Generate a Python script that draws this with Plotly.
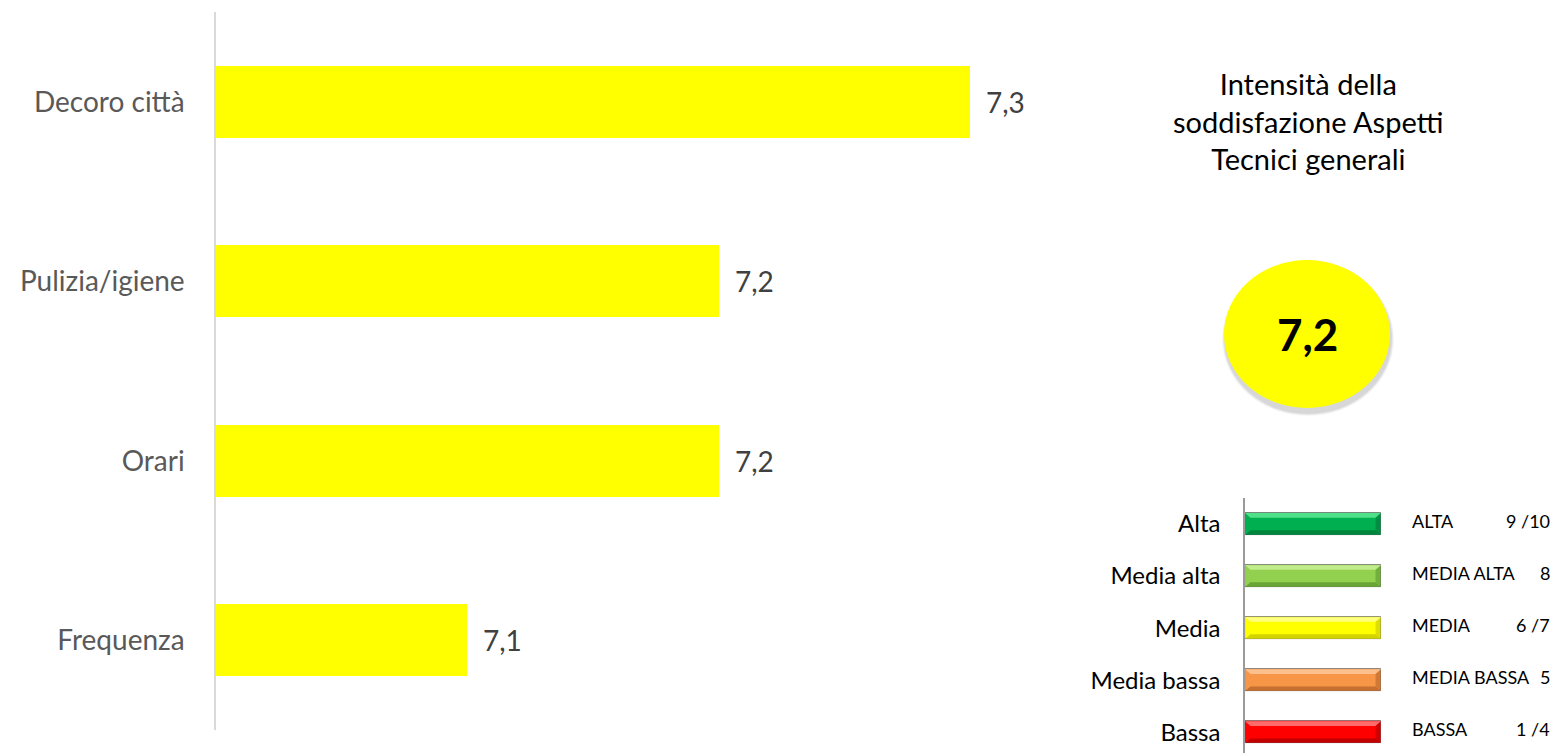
import plotly.graph_objects as go

# Soddisfazione per aspetto (scala 1-10)
aspetti = ["Decoro città", "Pulizia/igiene", "Orari", "Frequenza"]
punteggi = [7.3, 7.2, 7.2, 7.1]

# Scala di intensità
livelli = ["Alta", "Media alta", "Media", "Media bassa", "Bassa"]
livelli_sigla = ["ALTA", "MEDIA ALTA", "MEDIA", "MEDIA BASSA", "BASSA"]
livelli_range = ["9 /10", "8", "6 /7", "5", "1 /4"]
livelli_colori = ["#00B050", "#92D050", "#FFFF00", "#F79646", "#FF0000"]
livelli_chiari = ["#4fe08a", "#c0ec8c", "#ffff80", "#fbc08e", "#ff6a6a"]
livelli_scuri = ["#007a38", "#5f9a2e", "#c8c800", "#b8652a", "#b30000"]
livelli_lunghezza = [1, 1, 1, 1, 1]

W, H = 1559, 753
FONT = "Lato"

def fmt(v):
    return f"{v:.1f}".replace(".", ",")

fig = go.Figure()

# Grafico principale
fig.add_trace(go.Bar(
    x=punteggi, y=aspetti, orientation="h",
    marker=dict(color="#FFFF00", line=dict(width=0)),
    width=0.4, xaxis="x", yaxis="y", hoverinfo="skip",
))
for a, v in zip(aspetti, punteggi):
    fig.add_annotation(x=v, y=a, xref="x", yref="y", text=fmt(v),
                       showarrow=False, xanchor="left", xshift=14,
                       font=dict(family=FONT, size=28, color="#404040"))

# Scala di intensità con barre smussate
pos = list(range(len(livelli)))
fig.add_trace(go.Bar(
    x=livelli_lunghezza, y=pos, orientation="h",
    marker=dict(color=livelli_colori, line=dict(width=0.8, color="#6b6b6b")),
    width=0.42, xaxis="x2", yaxis="y2", hoverinfo="skip",
))
bw = 0.42
t = 0.09
dx = 0.04
for i, (L, cl, cd) in enumerate(zip(livelli_lunghezza, livelli_chiari, livelli_scuri)):
    y0 = i - bw / 2
    y1 = i + bw / 2
    # faccia superiore chiara
    fig.add_shape(type="path", xref="x2", yref="y2",
                  path=f"M 0 {y0} L {L} {y0} L {L-dx} {y0+t} L {dx} {y0+t} Z",
                  fillcolor=cl, line=dict(width=0), layer="above")
    # faccia inferiore scura
    fig.add_shape(type="path", xref="x2", yref="y2",
                  path=f"M 0 {y1} L {L} {y1} L {L-dx} {y1-t} L {dx} {y1-t} Z",
                  fillcolor=cd, line=dict(width=0), opacity=0.8, layer="above")
    # lato destro
    fig.add_shape(type="path", xref="x2", yref="y2",
                  path=f"M {L} {y0} L {L} {y1} L {L-dx} {y1-t} L {L-dx} {y0+t} Z",
                  fillcolor=cd, line=dict(width=0), opacity=0.6, layer="above")

for i, (s, r) in enumerate(zip(livelli_sigla, livelli_range)):
    fig.add_annotation(x=1410 / W, y=i, xref="paper", yref="y2", text=s,
                       showarrow=False, xanchor="left", yanchor="middle", yshift=3,
                       font=dict(family=FONT, size=18, color="#000000"))
    fig.add_annotation(x=1552 / W, y=i, xref="paper", yref="y2", text=r,
                       showarrow=False, xanchor="right", yanchor="middle", yshift=3,
                       font=dict(family=FONT, size=18, color="#000000"))

# Titolo e valore medio
fig.add_annotation(x=1308 / W, y=1 - 121 / H, xref="paper", yref="paper",
                   text="Intensità della<br>soddisfazione Aspetti<br>Tecnici generali",
                   showarrow=False, align="center", xanchor="center", yanchor="middle",
                   font=dict(family=FONT, size=29, color="#000000"))

cx, cy, rx, ry = 1307, 334, 83, 74
for k, op in enumerate([0.04, 0.05, 0.07]):
    g = 3 - k
    fig.add_shape(type="circle", xref="paper", yref="paper",
                  x0=(cx - rx - g + 1) / W, x1=(cx + rx + g + 1) / W,
                  y0=1 - (cy + ry + g + 5) / H, y1=1 - (cy - ry - g + 5) / H,
                  fillcolor=f"rgba(0,0,0,{op})", line=dict(width=0))
fig.add_shape(type="circle", xref="paper", yref="paper",
              x0=(cx - rx) / W, x1=(cx + rx) / W,
              y0=1 - (cy + ry) / H, y1=1 - (cy - ry) / H,
              fillcolor="#FFFF00", line=dict(width=0))
media = sum(punteggi) / len(punteggi)
fig.add_annotation(x=cx / W, y=1 - cy / H, xref="paper", yref="paper",
                   text=f"<b>{fmt(media)}</b>", showarrow=False,
                   xanchor="center", yanchor="middle",
                   font=dict(family=FONT, size=44, color="#000000"))

fig.update_layout(
    width=W, height=H,
    margin=dict(l=0, r=0, t=0, b=0),
    paper_bgcolor="white", plot_bgcolor="rgba(0,0,0,0)",
    showlegend=False, bargap=0,
    xaxis=dict(domain=[216 / W, 1221 / W], range=[7.0, 7.4], visible=False,
               fixedrange=True),
    yaxis=dict(domain=[1 - 730 / H, 1 - 12 / H], autorange="reversed",
               showline=True, linecolor="#d9d9d9", linewidth=1.5,
               showgrid=False, zeroline=False, ticks="", ticklabelstandoff=24,
               tickfont=dict(family=FONT, size=28, color="#595959")),
    xaxis2=dict(domain=[1245 / W, 1381 / W], range=[0, 1], visible=False,
                anchor="y2"),
    yaxis2=dict(domain=[0, 1 - 498 / H], range=[4.4, -0.5], anchor="x2",
                tickvals=pos, ticktext=livelli,
                showline=True, linecolor="#9a9a9a", linewidth=1.5,
                showgrid=False, zeroline=False, ticks="", ticklabelstandoff=18,
                tickfont=dict(family=FONT, size=24, color="#000000")),
)

fig.write_html("out.html")
